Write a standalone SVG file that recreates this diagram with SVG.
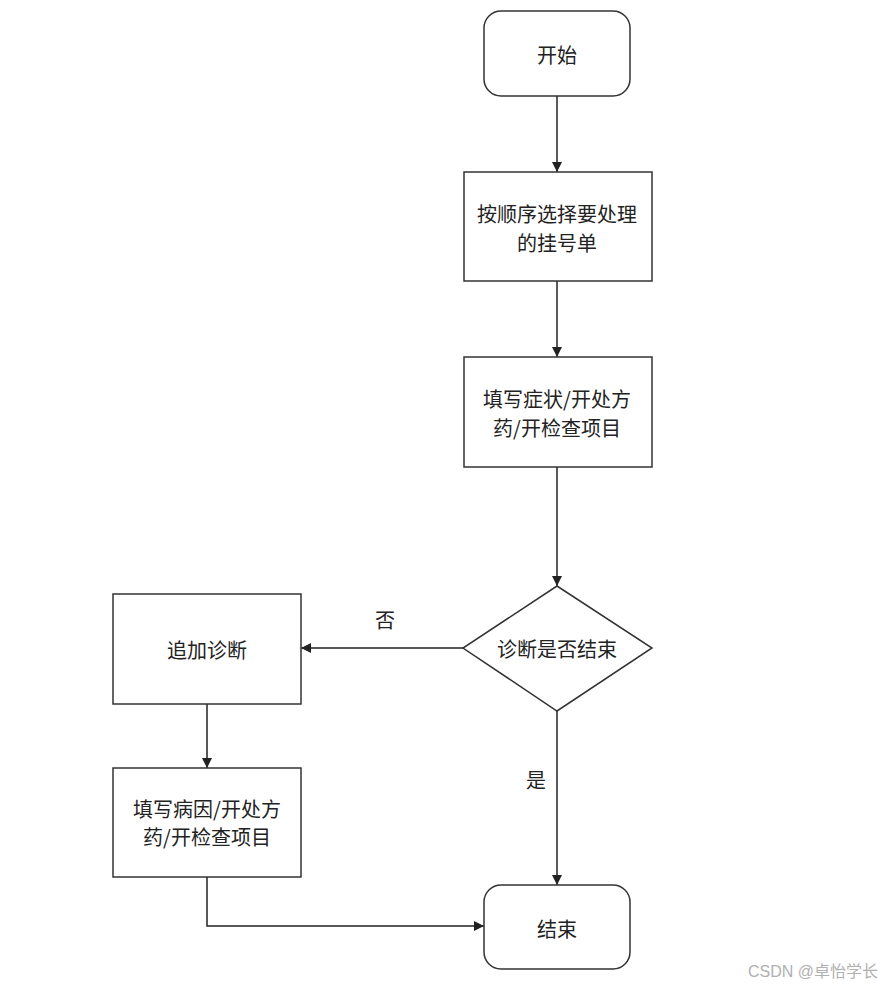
<svg xmlns="http://www.w3.org/2000/svg" width="882" height="987" viewBox="0 0 882 987">
<defs>
<marker id="arr" viewBox="0 0 10 10" refX="10" refY="5" markerWidth="10" markerHeight="10" markerUnits="userSpaceOnUse" orient="auto">
<path d="M0,0 L10,5 L0,10 z" fill="#222"/>
</marker>
<style>
.n{fill:#fff;stroke:#333;stroke-width:1.5}
.t{font-family:"Noto Sans CJK SC","Liberation Sans",sans-serif;font-size:20px;fill:#222;text-anchor:middle;dominant-baseline:central}
.c{fill:none;stroke:#222;stroke-width:1.5;marker-end:url(#arr)}
.wm{font-family:"Liberation Sans","Noto Sans CJK SC",sans-serif;font-size:16px;fill:#b0b0b0;text-anchor:end}
</style>
</defs>
<rect width="882" height="987" fill="#fff"/>
<g id="connectors">
<path class="c" d="M557,96 L557,172"/>
<path class="c" d="M557,281 L557,357"/>
<path class="c" d="M557,467 L557,586"/>
<path class="c" d="M463,648 L301,648"/>
<path class="c" d="M557,711 L557,885"/>
<path class="c" d="M207,704 L207,768"/>
<path class="c" d="M207,877 L207,926 L484,926"/>
<text class="t" x="385" y="619">否</text>
<text class="t" x="536" y="779">是</text>
</g>
<g id="start">
<rect class="n" x="484" y="11" width="146" height="85" rx="17"/>
<text class="t" x="557" y="54">开始</text>
</g>
<g id="select">
<rect class="n" x="464" y="172" width="188" height="109"/>
<text class="t" x="557" y="213">按顺序选择要处理</text>
<text class="t" x="557" y="242">的挂号单</text>
</g>
<g id="fill1">
<rect class="n" x="464" y="357" width="188" height="110"/>
<text class="t" x="557" y="398">填写症状/开处方</text>
<text class="t" x="557" y="427">药/开检查项目</text>
</g>
<g id="decision">
<polygon class="n" points="557,586 652,648 557,711 463,648"/>
<text class="t" x="557" y="648">诊断是否结束</text>
</g>
<g id="add">
<rect class="n" x="113" y="594" width="188" height="110"/>
<text class="t" x="207" y="649">追加诊断</text>
</g>
<g id="fill2">
<rect class="n" x="113" y="768" width="188" height="109"/>
<text class="t" x="207" y="808">填写病因/开处方</text>
<text class="t" x="207" y="836">药/开检查项目</text>
</g>
<g id="end">
<rect class="n" x="484" y="885" width="146" height="84" rx="17"/>
<text class="t" x="557" y="928">结束</text>
</g>
<text class="wm" x="878" y="977">CSDN @卓怡学长</text>
</svg>
